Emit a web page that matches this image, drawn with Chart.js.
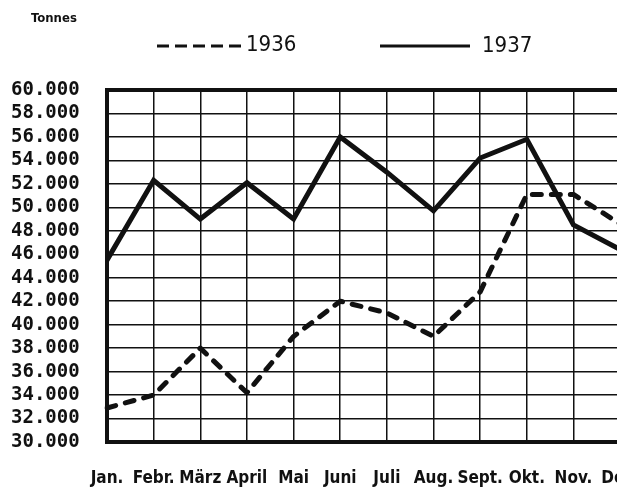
<!DOCTYPE html>
<html>
<head>
<meta charset="utf-8">
<script src="https://cdn.jsdelivr.net/npm/chart.js@4.4.1/dist/chart.umd.min.js"></script>
<style>
  html, body { margin: 0; padding: 0; background: #fff; overflow: hidden; }
  #wrap { width: 617px; height: 492px; overflow: hidden; }
</style>
</head>
<body>
<div id="wrap">
  <canvas id="myChart" width="665" height="492"></canvas>
</div>
<script>
// months along the bottom
const months = ['Jan.', 'Febr.', 'März', 'April', 'Mai', 'Juni', 'Juli', 'Aug.', 'Sept.', 'Okt.', 'Nov.', 'Dez.'];
// tonnes per month
const tonnes1936 = [32900, 34000, 38000, 34200, 39000, 42000, 41000, 39000, 42800, 51100, 51100, 48600];
const tonnes1937 = [45500, 52300, 49000, 52100, 49000, 56000, 53000, 49700, 54200, 55800, 48500, 46400];
// y axis range
const yMin = 30000;
const yMax = 60000;
const yStep = 2000;
const unitLabel = 'Tonnes';
const seriesNames = ['1936', '1937'];

// draws the "Tonnes" caption and the legend above the grid
const headerPlugin = {
    id: 'header',
    afterDraw(chart) {
        const ctx = chart.ctx;
        ctx.save();
        ctx.fillStyle = '#111';
        ctx.strokeStyle = '#111';
        ctx.font = 'bold 13px "DejaVu Sans Condensed", "DejaVu Sans", sans-serif';
        ctx.textBaseline = 'middle';
        ctx.fillText(unitLabel, 31, 19);

        ctx.lineWidth = 3;
        ctx.setLineDash([12, 6]);
        ctx.beginPath();
        ctx.moveTo(157, 46);
        ctx.lineTo(241, 46);
        ctx.stroke();
        ctx.setLineDash([]);
        ctx.beginPath();
        ctx.moveTo(380, 46);
        ctx.lineTo(470, 46);
        ctx.stroke();

        ctx.font = '22px "DejaVu Sans Condensed", "DejaVu Sans", sans-serif';
        ctx.fillText(seriesNames[0], 246, 45);
        ctx.fillText(seriesNames[1], 482, 46);
        ctx.restore();
    }
};

const ctx = document.getElementById('myChart').getContext('2d');
const myChart = new Chart(ctx, {
    type: 'line',
    data: {
        labels: months,
        datasets: [
            {
                label: seriesNames[0],
                data: tonnes1936,
                borderColor: '#111',
                borderWidth: 5,
                borderDash: [9, 10],
                borderCapStyle: 'round',
                borderJoinStyle: 'round',
                pointRadius: 0,
                tension: 0
            },
            {
                label: seriesNames[1],
                data: tonnes1937,
                borderColor: '#111',
                borderWidth: 5,
                borderJoinStyle: 'miter',
                pointRadius: 0,
                tension: 0
            }
        ]
    },
    options: {
        responsive: false,
        animation: false,
        devicePixelRatio: 1,
        layout: {
            padding: { top: 90, left: 11, right: 15, bottom: 0 }
        },
        plugins: {
            legend: { display: false },
            tooltip: { enabled: false }
        },
        scales: {
            x: {
                offset: false,
                grid: {
                    color: '#111',
                    lineWidth: c => (c.index === 0 ? 4 : 1.5),
                    drawTicks: false
                },
                border: { color: '#111', width: 4 },
                ticks: {
                    color: '#111',
                    padding: 26,
                    maxRotation: 0,
                    autoSkip: false,
                    font: { family: '"DejaVu Sans Condensed", "DejaVu Sans", sans-serif', size: 17, weight: 'bold' }
                },
                afterFit: scale => { scale.height = 50; }
            },
            y: {
                min: yMin,
                max: yMax,
                grid: {
                    color: '#111',
                    lineWidth: c => (c.tick && c.tick.value === yMax ? 4 : 1.5),
                    drawTicks: false
                },
                border: { color: '#111', width: 4 },
                ticks: {
                    stepSize: yStep,
                    autoSkip: false,
                    color: '#111',
                    crossAlign: 'far',
                    font: { family: '"DejaVu Sans Mono", monospace', size: 19, weight: 'bold' },
                    callback: v => (v / 1000) + '.000'
                },
                afterFit: scale => { scale.width = 96; }
            }
        }
    },
    plugins: [headerPlugin]
});
</script>
</body>
</html>
